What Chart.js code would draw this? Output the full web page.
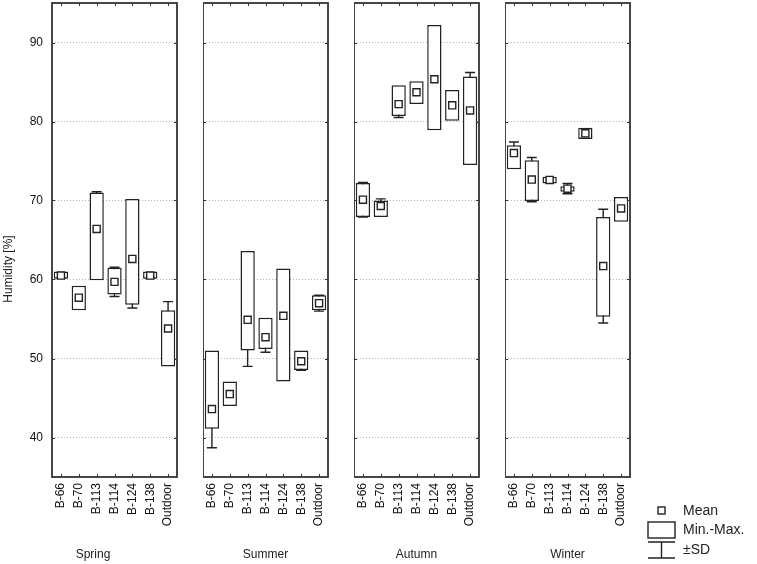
<!DOCTYPE html>
<html>
<head>
<meta charset="utf-8">
<script src="https://cdn.jsdelivr.net/npm/chart.js@4/dist/chart.umd.min.js"></script>
<style>
  html, body { margin: 0; padding: 0; background: #fff; }
  #wrap { position: relative; width: 757px; height: 564px; overflow: hidden; }
  .panel { position: absolute; top: 0; height: 564px; }
</style>
</head>
<body>
<div id="wrap">
  <div class="panel" id="p0"><canvas id="c0"></canvas></div>
  <div class="panel" id="p1"><canvas id="c1"></canvas></div>
  <div class="panel" id="p2"><canvas id="c2"></canvas></div>
  <div class="panel" id="p3"><canvas id="c3"></canvas></div>
</div>
<script>
const stations = ['B-66', 'B-70', 'B-113', 'B-114', 'B-124', 'B-138', 'Outdoor'];
const seasons = ['Spring', 'Summer', 'Autumn', 'Winter'];
const yTicks = [40, 50, 60, 70, 80, 90];
const legendLabels = ['Mean', 'Min.-Max.', '\u00B1SD'];

const springMean = [60.5, 57.7, 66.4, 59.7, 62.6, 60.5, 53.8];
const springMin  = [60.1, 56.1, 59.9, 58.1, 56.8, 60.1, 49.0];
const springMax  = [61.0, 59.2, 71.0, 61.5, 70.2, 61.0, 56.1];
const springSD   = [0.3, 1.0, 4.7, 1.85, 6.2, 0.3, 3.4];

const summerMean = [43.6, 45.5, 54.9, 52.7, 55.4, 49.65, 57.0];
const summerMin  = [41.1, 44.0, 51.0, 51.2, 47.1, 48.55, 56.1];
const summerMax  = [51.0, 47.1, 63.6, 55.15, 61.4, 51.0, 58.0];
const summerSD   = [4.9, 1.0, 5.9, 1.9, 4.5, 1.15, 1.0];

const autumnMean = [70.1, 69.3, 82.2, 83.7, 85.35, 82.05, 81.4];
const autumnMin  = [67.9, 67.9, 80.7, 82.2, 78.9, 80.1, 74.5];
const autumnMax  = [72.2, 70.0, 84.6, 85.1, 92.2, 84.0, 85.7];
const autumnSD   = [2.2, 0.9, 1.7, 1.0, 4.5, 1.5, 4.8];

const winterMean = [76.0, 72.65, 72.6, 71.5, 78.5, 61.7, 69.0];
const winterMin  = [73.95, 69.95, 72.15, 71.1, 77.8, 55.3, 67.3];
const winterMax  = [77.0, 75.1, 73.0, 71.8, 79.2, 67.9, 70.45];
const winterSD   = [1.4, 2.8, 0.3, 0.65, 0.5, 7.2, 1.0];

const panels = [
    { mean: springMean, min: springMin, max: springMax, sd: springSD },
    { mean: summerMean, min: summerMin, max: summerMax, sd: summerSD },
    { mean: autumnMean, min: autumnMin, max: autumnMax, sd: autumnSD },
    { mean: winterMean, min: winterMin, max: winterMax, sd: winterSD }
];

// layout of the four plot frames
const panelLeft = [52, 203, 354, 505];
const panelWidth = 125;
const plotTop = 3;
const plotBottom = 477;
const yAxisWidth = 52;
const ink = '#222';
const font = 'Liberation Sans, Arial, sans-serif';

function noPad(s) {
    s.paddingLeft = 0; s.paddingRight = 0;
    s.paddingTop = 0; s.paddingBottom = 0;
}

// ±SD whiskers, drawn under the boxes
const whiskers = {
    id: 'whiskers',
    beforeDatasetsDraw(chart) {
        const p = chart.options.plugins.whiskers;
        const x = chart.scales.x, y = chart.scales.y, ctx = chart.ctx;
        ctx.save();
        ctx.strokeStyle = ink;
        ctx.lineWidth = 1.4;
        p.mean.forEach((m, i) => {
            const cx = x.getPixelForValue(i);
            const yTop = y.getPixelForValue(m + p.sd[i]);
            const yBot = y.getPixelForValue(m - p.sd[i]);
            ctx.beginPath();
            ctx.moveTo(cx, yTop); ctx.lineTo(cx, yBot);
            ctx.moveTo(cx - 5, yTop); ctx.lineTo(cx + 5, yTop);
            ctx.moveTo(cx - 5, yBot); ctx.lineTo(cx + 5, yBot);
            ctx.stroke();
        });
        ctx.restore();
    }
};

// closed frame with inward ticks
const frame = {
    id: 'frame',
    afterDatasetsDraw(chart) {
        const a = chart.chartArea, x = chart.scales.x, y = chart.scales.y, ctx = chart.ctx;
        ctx.save();
        ctx.strokeStyle = '#333';
        ctx.lineWidth = 1.8;
        ctx.strokeRect(a.left, a.top, a.right - a.left, a.bottom - a.top);
        ctx.lineWidth = 1;
        ctx.beginPath();
        stations.forEach((s, i) => {
            const px = Math.round(x.getPixelForValue(i)) + 0.5;
            ctx.moveTo(px, a.top); ctx.lineTo(px, a.top + 3);
            ctx.moveTo(px, a.bottom); ctx.lineTo(px, a.bottom - 3);
        });
        yTicks.forEach(v => {
            const py = Math.round(y.getPixelForValue(v)) + 0.5;
            ctx.moveTo(a.left, py); ctx.lineTo(a.left + 3, py);
            ctx.moveTo(a.right, py); ctx.lineTo(a.right - 3, py);
        });
        ctx.stroke();
        ctx.restore();
    }
};

// season title, y title and legend
const extras = {
    id: 'extras',
    afterDraw(chart) {
        const p = chart.options.plugins.extras;
        const a = chart.chartArea;
        const ctx = chart.ctx;
        ctx.save();
        ctx.fillStyle = ink;
        ctx.font = '12px ' + font;
        ctx.textAlign = 'center';
        ctx.textBaseline = 'middle';
        const cx = p.first ? 93 : (a.left + a.right) / 2;
        ctx.fillText(p.season, cx, 555);
        if (p.first) {
            ctx.translate(9, 269);
            ctx.rotate(-Math.PI / 2);
            ctx.fillText('Humidity [%]', 0, 0);
            ctx.setTransform(1, 0, 0, 1, 0, 0);
        }
        if (p.last) {
            const lx = 648 - p.left;
            ctx.strokeStyle = ink;
            ctx.lineWidth = 1.4;
            ctx.strokeRect(lx + 10, 507, 7, 7);
            ctx.strokeRect(lx, 522, 27, 16);
            ctx.beginPath();
            ctx.moveTo(lx, 542); ctx.lineTo(lx + 27, 542);
            ctx.moveTo(lx + 13.5, 542); ctx.lineTo(lx + 13.5, 558);
            ctx.moveTo(lx, 558); ctx.lineTo(lx + 27, 558);
            ctx.stroke();
            ctx.font = '14px ' + font;
            ctx.textAlign = 'left';
            ctx.fillText(legendLabels[0], lx + 35, 511);
            ctx.fillText(legendLabels[1], lx + 35, 530);
            ctx.fillText(legendLabels[2], lx + 35, 550);
        }
        ctx.restore();
    }
};

panels.forEach((d, k) => {
    const first = k === 0;
    const last = k === panels.length - 1;
    const left = first ? 0 : panelLeft[k];
    const right = last ? 757 : panelLeft[k] + panelWidth + 1;
    const div = document.getElementById('p' + k);
    div.style.left = left + 'px';
    div.style.width = (right - left) + 'px';

    new Chart(document.getElementById('c' + k), {
        data: {
            labels: stations,
            datasets: [
                {
                    type: 'line',
                    data: d.mean,
                    showLine: false,
                    pointStyle: 'rect',
                    pointRadius: 5,
                    pointBackgroundColor: '#fff',
                    pointBorderColor: ink,
                    pointBorderWidth: 1.4,
                    order: 0
                },
                {
                    type: 'bar',
                    data: d.min.map((v, i) => [v, d.max[i]]),
                    backgroundColor: '#fff',
                    borderColor: ink,
                    borderWidth: 1.5,
                    borderSkipped: false,
                    barPercentage: 0.8,
                    categoryPercentage: 1,
                    order: 1
                }
            ]
        },
        options: {
            responsive: true,
            maintainAspectRatio: false,
            animation: false,
            layout: {
                autoPadding: false,
                padding: {
                    top: plotTop,
                    left: 0,
                    right: last ? 757 - (panelLeft[k] + panelWidth) : 1,
                    bottom: 0
                }
            },
            plugins: {
                legend: { display: false },
                tooltip: { enabled: false },
                whiskers: { mean: d.mean, sd: d.sd },
                extras: { first: first, last: last, left: left, season: seasons[k] }
            },
            scales: {
                x: {
                    type: 'category',
                    offset: true,
                    grid: { display: false, drawTicks: false },
                    border: { display: false },
                    afterFit: s => { s.height = 564 - plotBottom; noPad(s); },
                    ticks: {
                        minRotation: 90,
                        maxRotation: 90,
                        autoSkip: false,
                        padding: 6,
                        color: '#111',
                        font: { family: font, size: 12 }
                    }
                },
                y: {
                    min: 35,
                    max: 95,
                    afterBuildTicks: s => { s.ticks = yTicks.map(v => ({ value: v })); },
                    afterFit: s => { s.width = first ? yAxisWidth : 0; noPad(s); },
                    grid: {
                        color: '#b5b5b5',
                        lineWidth: 1,
                        drawTicks: false
                    },
                    border: { display: false, dash: [1, 2] },
                    ticks: {
                        display: first,
                        padding: 9,
                        color: '#111',
                        font: { family: font, size: 12 }
                    }
                }
            }
        },
        plugins: [whiskers, frame, extras]
    });
});
</script>
</body>
</html>
